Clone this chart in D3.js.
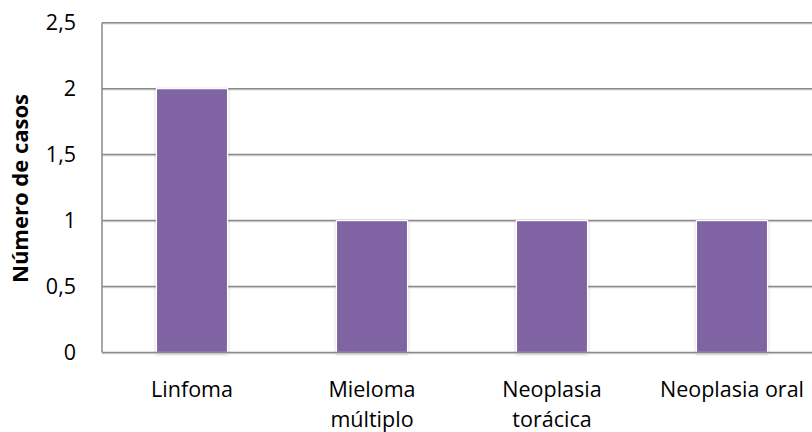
<!DOCTYPE html>
<html>
<head>
<meta charset="utf-8">
<script src="https://cdn.jsdelivr.net/npm/d3@7/dist/d3.min.js"></script>
<style>
  html, body { margin: 0; padding: 0; background: #fff; overflow: hidden; }
  svg { display: block; font-family: "Open Sans", "Noto Sans", sans-serif; }
</style>
</head>
<body>
<svg id="chart" width="812" height="432"></svg>
<script>
// Cases per diagnosis
const categories = ["Linfoma", "Mieloma múltiplo", "Neoplasia torácica", "Neoplasia oral"];
const categoryLines = [["Linfoma"], ["Mieloma", "múltiplo"], ["Neoplasia", "torácica"], ["Neoplasia oral"]];
const values = [2, 1, 1, 1];
const yTicks = [0, 0.5, 1, 1.5, 2, 2.5];
const yTickLabels = ["0", "0,5", "1", "1,5", "2", "2,5"];
const yTitle = "Número de casos";

const svg = d3.select("#chart");
const plotLeft = 102, plotTop = 22.7, plotBottom = 352.5, bandW = 180;
const plotRight = plotLeft + bandW * categories.length;
const fontSize = 21.5;

const x = d3.scaleBand().domain(categories).range([plotLeft, plotRight]).paddingInner(0.605).paddingOuter(0.3025);
const y = d3.scaleLinear().domain([0, 2.5]).range([plotBottom, plotTop]);

const defs = svg.append("defs");
const sh = defs.append("filter").attr("id", "shadow").attr("x", "-20%").attr("y", "-20%").attr("width", "140%").attr("height", "140%");
sh.append("feGaussianBlur").attr("in", "SourceAlpha").attr("stdDeviation", 1.5).attr("result", "b");
sh.append("feOffset").attr("in", "b").attr("dx", 0).attr("dy", 1).attr("result", "o");
sh.append("feComponentTransfer").attr("in", "o").attr("result", "s")
  .append("feFuncA").attr("type", "linear").attr("slope", 0.3);
const m = sh.append("feMerge");
m.append("feMergeNode").attr("in", "s");
m.append("feMergeNode").attr("in", "SourceGraphic");

// horizontal gridlines with a faint lower edge
const grid = svg.append("g");
grid.selectAll("line.edge")
  .data(yTicks.filter(d => d > 0))
  .join("line").attr("class", "edge")
  .attr("x1", plotLeft).attr("x2", plotRight)
  .attr("y1", d => y(d) + 1.2).attr("y2", d => y(d) + 1.2)
  .attr("stroke", "#d4d4d4").attr("stroke-width", 1);
grid.selectAll("line.main")
  .data(yTicks.filter(d => d > 0))
  .join("line").attr("class", "main")
  .attr("x1", plotLeft).attr("x2", plotRight)
  .attr("y1", d => y(d)).attr("y2", d => y(d))
  .attr("stroke", "#8a8a8a").attr("stroke-width", 1.5);

// bars
svg.append("g")
  .selectAll("rect")
  .data(values)
  .join("rect")
  .attr("x", (d, i) => x(categories[i]))
  .attr("width", x.bandwidth())
  .attr("y", d => y(d))
  .attr("height", d => y(0) - y(d))
  .attr("fill", "#8064a2")
  .attr("stroke", "#ffffff")
  .attr("stroke-width", 1.2)
  .attr("filter", "url(#shadow)");

// axis lines
svg.append("line").attr("x1", plotLeft).attr("x2", plotLeft).attr("y1", plotTop).attr("y2", plotBottom)
  .attr("stroke", "#8a8a8a").attr("stroke-width", 1.5);
svg.append("line").attr("x1", plotLeft).attr("x2", plotRight).attr("y1", plotBottom + 1.2).attr("y2", plotBottom + 1.2)
  .attr("stroke", "#d4d4d4").attr("stroke-width", 1);
svg.append("line").attr("x1", plotLeft).attr("x2", plotRight).attr("y1", plotBottom).attr("y2", plotBottom)
  .attr("stroke", "#8a8a8a").attr("stroke-width", 1.5);

// y tick labels
const yAxis = d3.axisLeft(y).tickValues(yTicks).tickFormat((d, i) => yTickLabels[i]).tickSize(0).tickPadding(26);
const ga = svg.append("g").attr("transform", `translate(${plotLeft},0)`).call(yAxis);
ga.select(".domain").remove();
ga.selectAll("text").attr("font-size", fontSize).attr("fill", "#000").attr("font-family", "Open Sans, sans-serif");

// category labels
const xl = svg.append("g");
categoryLines.forEach((lines, i) => {
  const cx = x(categories[i]) + x.bandwidth() / 2;
  const t = xl.append("text").attr("x", cx).attr("y", 396.5)
    .attr("text-anchor", "middle").attr("font-size", fontSize).attr("fill", "#000");
  lines.forEach((ln, j) => t.append("tspan").attr("x", cx).attr("dy", j === 0 ? 0 : 30.5).text(ln));
});

// y axis title
svg.append("text")
  .attr("transform", "translate(28,188.5) rotate(-90)")
  .attr("text-anchor", "middle")
  .attr("font-size", 22).attr("font-weight", "bold").attr("fill", "#000")
  .text(yTitle);
</script>
</body>
</html>
